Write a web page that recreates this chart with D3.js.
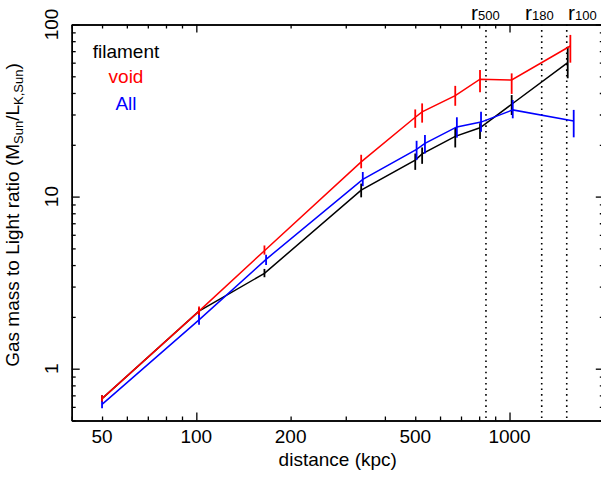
<!DOCTYPE html>
<html>
<head>
<meta charset="utf-8">
<script src="https://cdn.jsdelivr.net/npm/d3@7"></script>
<style>
  body { margin: 0; background: #fff; }
  text { font-family: "Liberation Sans", Arial, sans-serif; }
</style>
</head>
<body>
<script>
// data
var filamentX  = [50, 102, 165, 336, 500, 526, 671, 805, 1016, 1534];
var filamentY  = [0.67, 2.16, 3.58, 10.9, 16.3, 17.7, 22.4, 25.1, 34.4, 60];
var filamentLo = [0.64, 2.05, 3.4, 9.9, 14.3, 15.5, 19.3, 21.6, 29.8, 48.7];
var filamentHi = [0.70, 2.25, 3.8, 11.9, 17.8, 19.3, 25.1, 26.7, 38.9, 74.3];

var voidX  = [50, 102, 165, 336, 500, 526, 671, 805, 1016, 1564];
var voidY  = [0.67, 2.16, 4.85, 15.9, 28.9, 31.1, 38.6, 48.1, 47.6, 75];
var voidLo = [0.645, 2.05, 4.6, 14.6, 25.1, 26.9, 33.7, 40.4, 39.5, 60];
var voidHi = [0.70, 2.3, 5.2, 17.5, 32.1, 34.8, 44, 54.4, 52, 87];

var allX  = [50, 102, 167, 340, 505, 537, 679, 811, 1024, 1603];
var allY  = [0.62, 1.92, 4.32, 12.6, 18.8, 20.4, 25.4, 27.1, 31.9, 27.5];
var allLo = [0.59, 1.8, 4.0, 11.5, 16.3, 17.8, 22, 23.8, 28.5, 22.1];
var allHi = [0.66, 2.05, 4.6, 13.9, 21.1, 22.8, 28.9, 31.1, 36.4, 31.9];

var radiusNames = ["500", "180", "100"];
var radiusX = [841, 1267, 1523];

var xTickLabels = [50, 100, 200, 500, 1000];
var yTickLabels = [1, 10, 100];

var W = 601, H = 478;

var svg = d3.select("body").append("svg")
    .attr("width", W)
    .attr("height", H);

var x = d3.scaleLog().domain([40, 2000]).range([71.7, 603.8]);
var y = d3.scaleLog().domain([0.5, 100]).range([420.5, 24.5]);

function isMajor(v) { return Math.abs(Math.log10(v) - Math.round(Math.log10(v))) < 1e-9; }

var xMinor = x.ticks().filter(function (d) { return !isMajor(d); });
var xMajor = x.ticks().filter(isMajor);
var yMinor = y.ticks().filter(function (d) { return !isMajor(d); });
var yMajor = y.ticks().filter(isMajor);

// radius markers (dotted)
svg.selectAll(".rline")
    .data(radiusX)
    .enter().append("line")
    .attr("x1", function (d) { return x(d); })
    .attr("x2", function (d) { return x(d); })
    .attr("y1", y(100))
    .attr("y2", y(0.5))
    .attr("stroke", "#000")
    .attr("stroke-width", 1.6)
    .attr("stroke-dasharray", "1.6,4");

var rlab = svg.selectAll(".rlab")
    .data(radiusX)
    .enter().append("text")
    .attr("x", function (d, i) { return [471, 525, 568][i]; })
    .attr("y", 19.5)
    .attr("font-size", 21);
rlab.append("tspan").text("r");
rlab.append("tspan").attr("font-size", 13).attr("dy", 0)
    .text(function (d, i) { return radiusNames[i]; });

// axes: ticks point inward
function drawX(axisFn, ty, vals, size) {
    svg.append("g")
        .attr("transform", "translate(0," + ty + ")")
        .call(axisFn(x).tickValues(vals).tickSize(size).tickSizeOuter(0).tickFormat(""))
        .call(function (g) {
            g.select(".domain").attr("stroke-width", 1.5);
            g.selectAll(".tick line").attr("stroke-width", 1.3);
        });
}
function drawY(axisFn, tx, vals, size) {
    svg.append("g")
        .attr("transform", "translate(" + tx + ",0)")
        .call(axisFn(y).tickValues(vals).tickSize(size).tickSizeOuter(0).tickFormat(""))
        .call(function (g) {
            g.select(".domain").attr("stroke-width", 1.5);
            g.selectAll(".tick line").attr("stroke-width", 1.3);
        });
}
drawX(d3.axisBottom, y(0.5), xMinor, -4);
drawX(d3.axisBottom, y(0.5), xMajor, -8);
drawX(d3.axisTop, y(100), xMinor, -4);
drawX(d3.axisTop, y(100), xMajor, -8);
drawY(d3.axisLeft, x(40), yMinor, -4);
drawY(d3.axisLeft, x(40), yMajor, -8);
drawY(d3.axisRight, x(2000), yMinor, -4);
drawY(d3.axisRight, x(2000), yMajor, -8);

svg.selectAll(".xlab")
    .data(xTickLabels)
    .enter().append("text")
    .attr("x", function (d) { return x(d); })
    .attr("y", 443)
    .attr("text-anchor", "middle")
    .attr("font-size", 19)
    .text(function (d) { return d; });

svg.selectAll(".ylab")
    .data(yTickLabels)
    .enter().append("text")
    .attr("transform", function (d) { return "translate(58," + y(d) + ") rotate(-90)"; })
    .attr("text-anchor", "middle")
    .attr("font-size", 19)
    .text(function (d) { return d; });

svg.append("text")
    .attr("x", (x(40) + x(2000)) / 2)
    .attr("y", 466)
    .attr("text-anchor", "middle")
    .attr("font-size", 19)
    .text("distance (kpc)");

var yt = svg.append("text")
    .attr("transform", "translate(19,215) rotate(-90)")
    .attr("text-anchor", "middle")
    .attr("font-size", 19);
yt.append("tspan").text("Gas mass to Light ratio (M");
yt.append("tspan").attr("font-size", 13).attr("dy", 4).text("Sun");
yt.append("tspan").attr("dy", -4).text("/L");
yt.append("tspan").attr("font-size", 13).attr("dy", 4).text("K,Sun");
yt.append("tspan").attr("dy", -4).text(")");

// series
var series = [
    { name: "filament", color: "#000000", xs: filamentX, ys: filamentY, lo: filamentLo, hi: filamentHi },
    { name: "All", color: "#0000ff", xs: allX, ys: allY, lo: allLo, hi: allHi },
    { name: "void", color: "#ff0000", xs: voidX, ys: voidY, lo: voidLo, hi: voidHi }
];

var line = d3.line()
    .x(function (d) { return x(d.x); })
    .y(function (d) { return y(d.y); });

series.forEach(function (s) {
    var pts = s.xs.map(function (v, i) {
        return { x: v, y: s.ys[i], lo: s.lo[i], hi: s.hi[i] };
    });
    var g = svg.append("g");
    g.append("path")
        .datum(pts)
        .attr("fill", "none")
        .attr("stroke", s.color)
        .attr("stroke-width", 1.5)
        .attr("d", line);
    g.selectAll("line")
        .data(pts)
        .enter().append("line")
        .attr("x1", function (d) { return x(d.x); })
        .attr("x2", function (d) { return x(d.x); })
        .attr("y1", function (d) { return y(d.lo); })
        .attr("y2", function (d) { return y(d.hi); })
        .attr("stroke", s.color)
        .attr("stroke-width", 1.8);
});

// legend
var legend = [
    { name: "filament", color: "#000000", y: 58 },
    { name: "void", color: "#ff0000", y: 83 },
    { name: "All", color: "#0000ff", y: 110 }
];
svg.selectAll(".leg")
    .data(legend)
    .enter().append("text")
    .attr("x", 126)
    .attr("y", function (d) { return d.y; })
    .attr("text-anchor", "middle")
    .attr("font-size", 19)
    .attr("fill", function (d) { return d.color; })
    .text(function (d) { return d.name; });
</script>
</body>
</html>
